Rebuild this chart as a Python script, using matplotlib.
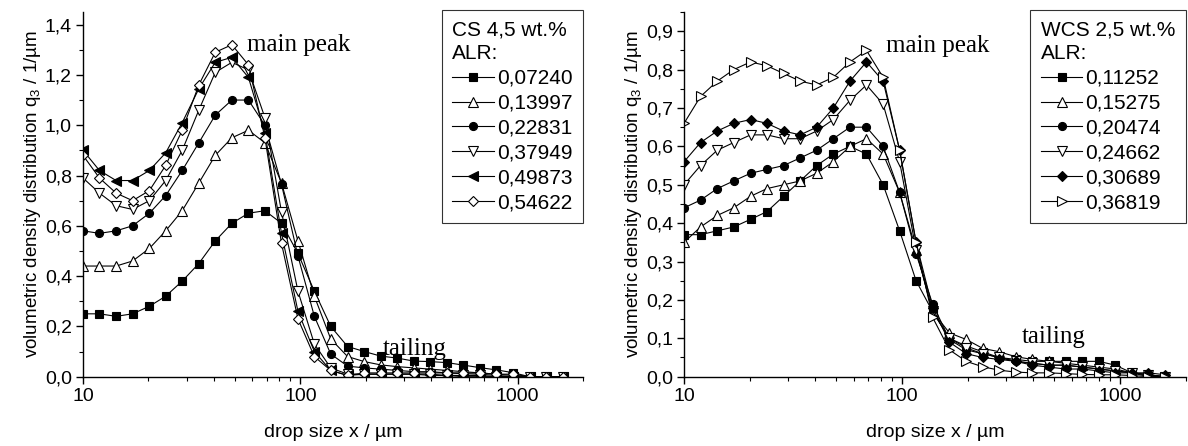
import numpy as np
import matplotlib
matplotlib.use("Agg")
import matplotlib.pyplot as plt
from matplotlib.ticker import FixedLocator, LogLocator, NullFormatter, MultipleLocator, FuncFormatter

plt.rcParams['font.family'] = ['Liberation Sans', 'DejaVu Sans']
plt.rcParams['mathtext.fontset'] = 'custom'
plt.rcParams['mathtext.rm'] = 'Liberation Sans'

# drop size classes (um), shared by both panels
size = [10, 11.9, 14.2, 16.9, 20.2, 24.0, 28.6, 34.1, 40.6, 48.4, 57.7, 68.7, 81.9, 97.5,
        116, 138, 165, 197, 234, 279, 333, 396, 472, 563, 670, 799, 952, 1134, 1351, 1610]

# left panel: CS 4,5 wt.%
cs_alr = ["0,07240", "0,13997", "0,22831", "0,37949", "0,49873", "0,54622"]
cs_1 = [0.25, 0.25, 0.24, 0.25, 0.28, 0.32, 0.38, 0.45, 0.54, 0.61, 0.65, 0.66, 0.61, 0.49,
        0.34, 0.20, 0.12, 0.10, 0.082, 0.074, 0.062, 0.06, 0.056, 0.046, 0.036, 0.027, 0.016, 0, 0, 0]
cs_2 = [0.44, 0.44, 0.44, 0.46, 0.51, 0.58, 0.66, 0.77, 0.88, 0.95, 0.98, 0.93, 0.77, 0.54,
        0.32, 0.15, 0.08, 0.06, 0.047, 0.04, 0.035, 0.03, 0.025, 0.02, 0.015, 0.01, 0.005, 0, 0, 0]
cs_3 = [0.58, 0.57, 0.58, 0.60, 0.65, 0.72, 0.82, 0.93, 1.04, 1.10, 1.10, 1.00, 0.765, 0.48,
        0.24, 0.09, 0.042, 0.035, 0.03, 0.025, 0.02, 0.02, 0.015, 0.012, 0.01, 0.005, 0, 0, 0, 0]
cs_4 = [0.79, 0.73, 0.68, 0.665, 0.70, 0.78, 0.90, 1.06, 1.21, 1.25, 1.22, 1.03, 0.655, 0.34,
        0.13, 0.035, 0.01, 0.01, 0.01, 0.01, 0.01, 0.01, 0.005, 0.005, 0.005, 0, 0, 0, 0, 0]
cs_5 = [0.90, 0.82, 0.78, 0.78, 0.82, 0.89, 1.01, 1.145, 1.25, 1.27, 1.19, 0.97, 0.57, 0.26,
        0.10, 0.025, 0.005, 0.01, 0.01, 0.01, 0.01, 0.005, 0.005, 0, 0, 0, 0, 0, 0, 0]
cs_6 = [0.88, 0.79, 0.73, 0.70, 0.74, 0.84, 0.98, 1.16, 1.29, 1.32, 1.24, 0.95, 0.53, 0.23,
        0.08, 0.025, 0.005, 0.015, 0.015, 0.015, 0.015, 0.015, 0.015, 0.015, 0.015, 0.01, 0.01, 0, 0, 0]

# right panel: WCS 2,5 wt.%
wcs_alr = ["0,11252", "0,15275", "0,20474", "0,24662", "0,30689", "0,36819"]
wcs_1 = [0.37, 0.37, 0.38, 0.39, 0.41, 0.43, 0.47, 0.51, 0.55, 0.58, 0.60, 0.58, 0.50, 0.38,
         0.25, 0.17, 0.10, 0.08, 0.065, 0.05, 0.045, 0.04, 0.04, 0.04, 0.04, 0.04, 0.03, 0.01, 0, 0]
wcs_2 = [0.35, 0.39, 0.42, 0.44, 0.47, 0.49, 0.50, 0.51, 0.53, 0.56, 0.60, 0.62, 0.58, 0.48,
         0.33, 0.17, 0.114, 0.097, 0.074, 0.065, 0.052, 0.045, 0.04, 0.035, 0.03, 0.025, 0.02, 0.01, 0.005, 0]
wcs_3 = [0.44, 0.46, 0.49, 0.51, 0.53, 0.54, 0.55, 0.57, 0.59, 0.62, 0.65, 0.65, 0.60, 0.48,
         0.32, 0.19, 0.097, 0.07, 0.06, 0.05, 0.04, 0.035, 0.03, 0.03, 0.025, 0.02, 0.015, 0.01, 0.005, 0]
wcs_4 = [0.50, 0.55, 0.59, 0.61, 0.63, 0.63, 0.62, 0.62, 0.64, 0.67, 0.72, 0.76, 0.71, 0.56,
         0.33, 0.17, 0.10, 0.075, 0.06, 0.05, 0.04, 0.035, 0.03, 0.03, 0.025, 0.02, 0.015, 0.01, 0.005, 0]
wcs_5 = [0.56, 0.61, 0.64, 0.66, 0.67, 0.66, 0.64, 0.63, 0.65, 0.70, 0.77, 0.82, 0.77, 0.59,
         0.35, 0.18, 0.09, 0.06, 0.05, 0.045, 0.04, 0.03, 0.025, 0.02, 0.02, 0.015, 0.01, 0.01, 0.01, 0.005]
wcs_6 = [0.66, 0.73, 0.77, 0.80, 0.82, 0.81, 0.79, 0.77, 0.76, 0.78, 0.82, 0.85, 0.78, 0.59,
         0.35, 0.155, 0.07, 0.04, 0.026, 0.017, 0.012, 0.01, 0.01, 0.008, 0.006, 0.005, 0.005, 0.003, 0, 0]

# marker, filled?
cs_style = [('s', True), ('^', False), ('o', True), ('v', False), ('<', True), ('D', False)]
wcs_style = [('s', True), ('^', False), ('o', True), ('v', False), ('D', True), ('>', False)]
msize = {'s': 5.2, 'o': 5.8, 'D': 5.4, '^': 6.8, 'v': 6.8, '<': 6.8, '>': 6.8}

fig = plt.figure(figsize=(11.88, 4.46), dpi=100)
ax1 = fig.add_axes([0.0699, 0.1554, 0.4209, 0.8176])
ax2 = fig.add_axes([0.5758, 0.1554, 0.4222, 0.8176])


def comma(v, pos):
    return ("%.1f" % v).replace('.', ',')


def setup(ax, ymax, ymajor, title):
    ax.set_xscale('log')
    ax.set_xlim(10, 2000)
    ax.set_ylim(0, ymax)
    ax.xaxis.set_major_locator(FixedLocator([10, 100, 1000]))
    ax.xaxis.set_major_formatter(FuncFormatter(lambda v, p: "%d" % v))
    ax.xaxis.set_minor_locator(LogLocator(base=10, subs=np.arange(2, 10)))
    ax.xaxis.set_minor_formatter(NullFormatter())
    ax.yaxis.set_major_locator(MultipleLocator(ymajor))
    ax.yaxis.set_minor_locator(MultipleLocator(ymajor / 2))
    ax.yaxis.set_major_formatter(FuncFormatter(comma))
    for s in ['top', 'right']:
        ax.spines[s].set_visible(False)
    for s in ['left', 'bottom']:
        ax.spines[s].set_linewidth(1.0)
    ax.tick_params(which='major', direction='out', length=5, width=1.0, labelsize=14, pad=3)
    ax.tick_params(which='minor', direction='out', length=3, width=0.8)
    ax.set_xlabel("drop size x / µm", fontsize=14, labelpad=14)
    ax.set_ylabel("volumetric density distribution q$_\\mathregular{3}$ / 1/µm", fontsize=13.5, labelpad=1)
    leg = ax.legend(title=title, loc='upper right', bbox_to_anchor=(1.0, 1.005),
                    borderaxespad=0, fontsize=15, title_fontsize=15, alignment='left',
                    frameon=True, fancybox=False, edgecolor='black', labelspacing=0.28,
                    handlelength=2.0, handletextpad=0.15, borderpad=0.5)
    leg.get_title().set_linespacing(1.3)
    leg.get_frame().set_linewidth(0.8)


for ys, lab, (m, filled) in zip([cs_1, cs_2, cs_3, cs_4, cs_5, cs_6], cs_alr, cs_style):
    ax1.plot(size, ys, color='black', lw=0.8, marker=m, ms=msize[m],
             mfc='black' if filled else 'white', mec='black', mew=0.8, label=lab)
for ys, lab, (m, filled) in zip([wcs_1, wcs_2, wcs_3, wcs_4, wcs_5, wcs_6], wcs_alr, wcs_style):
    ax2.plot(size, ys, color='black', lw=0.8, marker=m, ms=msize[m],
             mfc='black' if filled else 'white', mec='black', mew=0.8, label=lab)

setup(ax1, 1.45, 0.2, "CS 4,5 wt.%\nALR:")
setup(ax2, 0.95, 0.1, "WCS 2,5 wt.%\nALR:")

serif = ['Liberation Serif', 'DejaVu Serif']
ax1.text(57, 1.32, "main peak", family=serif, fontsize=18, ha='left', va='center')
ax1.text(239, 0.11, "tailing", family=serif, fontsize=18, ha='left', va='center')
ax2.text(84, 0.862, "main peak", family=serif, fontsize=18, ha='left', va='center')
ax2.text(355, 0.104, "tailing", family=serif, fontsize=18, ha='left', va='center')

fig.savefig("out.png", dpi=100)
